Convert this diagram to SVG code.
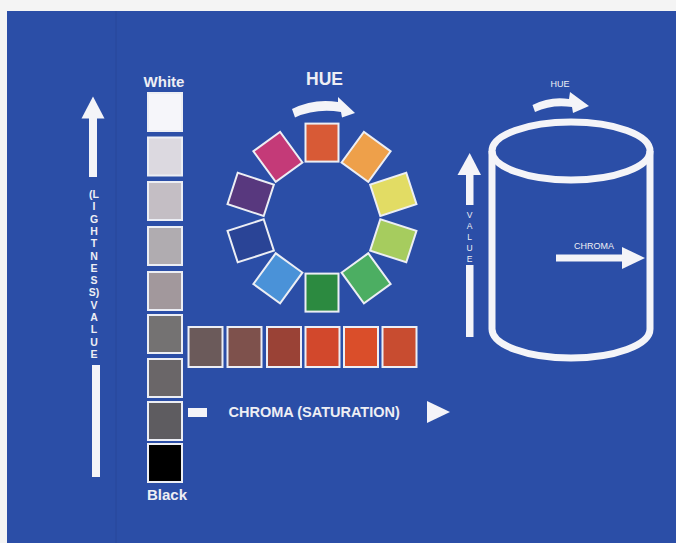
<svg xmlns="http://www.w3.org/2000/svg" width="676" height="543" viewBox="0 0 676 543">
<style>
.t{font-family:"Liberation Sans",Arial,sans-serif;fill:#eeeef4}
.b{font-weight:bold}
.sq{stroke:#eceef4;stroke-width:2}
.w{fill:#f4f4f8}
.cyl{fill:none;stroke:#f4f4f8;stroke-width:7}
</style>
<rect x="0" y="0" width="676" height="543" fill="#f4f4f4"/>
<rect x="7" y="11" width="669" height="532" fill="#2b4ea7"/>
<line x1="116" y1="11" x2="116" y2="543" stroke="#28479a" stroke-width="1"/>

<g id="value-axis">
<polygon class="w" points="93,96.5 81.5,118.5 104.5,118.5"/>
<rect class="w" x="89" y="117" width="8" height="60"/>
<g class="t b" font-size="10.5" text-anchor="middle">
<text x="94" y="198">(L</text>
<text x="94" y="210.3">I</text>
<text x="94" y="222.6">G</text>
<text x="94" y="234.9">H</text>
<text x="94" y="247.2">T</text>
<text x="94" y="259.5">N</text>
<text x="94" y="271.8">E</text>
<text x="94" y="284.1">S</text>
<text x="94" y="296.4">S)</text>
<text x="94" y="308.7">V</text>
<text x="94" y="321">A</text>
<text x="94" y="333.3">L</text>
<text x="94" y="345.6">U</text>
<text x="94" y="357.9">E</text>
</g>
<rect class="w" x="92" y="365" width="8" height="112"/>
</g>

<g id="gray-scale">
<text class="t b" x="164" y="87" font-size="15" text-anchor="middle">White</text>
<rect class="sq" x="148" y="93" width="34" height="38" fill="#f6f6fa"/>
<rect class="sq" x="148" y="137.5" width="34" height="38" fill="#dcd9e0"/>
<rect class="sq" x="148" y="182" width="34" height="38" fill="#c4bec4"/>
<rect class="sq" x="148" y="227" width="34" height="38" fill="#b0acb0"/>
<rect class="sq" x="148" y="272" width="34" height="38" fill="#a2989c"/>
<rect class="sq" x="148" y="315" width="34" height="38" fill="#747272"/>
<rect class="sq" x="148" y="359" width="34" height="38" fill="#6a6668"/>
<rect class="sq" x="148" y="402" width="34" height="38" fill="#5e5c60"/>
<rect class="sq" x="148" y="444" width="34" height="38" fill="#000000"/>
<text class="t b" x="167" y="500" font-size="15" text-anchor="middle">Black</text>
</g>

<g id="hue-wheel">
<text class="t b" x="324.5" y="85" font-size="17.5" text-anchor="middle">HUE</text>
<path class="w" d="M292,109 Q314,98 338,102 L338,97 L355,113 L342,117.5 L341,112 Q316,108 295,117.5 Z"/>
<rect class="sq" x="305.5" y="123.6" width="33" height="38" fill="#d85a36"/>
<rect class="sq" x="349.6" y="137.9" width="33" height="38" fill="#eea04a" transform="rotate(36 366.1 156.9)"/>
<rect class="sq" x="376.8" y="175.4" width="33" height="38" fill="#e2dc64" transform="rotate(72 393.3 194.4)"/>
<rect class="sq" x="376.8" y="221.8" width="33" height="38" fill="#a6cc5e" transform="rotate(108 393.3 240.8)"/>
<rect class="sq" x="349.6" y="259.3" width="33" height="38" fill="#4cae62" transform="rotate(144 366.1 278.3)"/>
<rect class="sq" x="305.5" y="273.6" width="33" height="38" fill="#2c8a40"/>
<rect class="sq" x="261.4" y="259.3" width="33" height="38" fill="#4a92d8" transform="rotate(216 277.9 278.3)"/>
<rect class="sq" x="234.2" y="221.8" width="33" height="38" fill="#2a4496" transform="rotate(252 250.7 240.8)"/>
<rect class="sq" x="234.2" y="175.4" width="33" height="38" fill="#58387e" transform="rotate(288 250.7 194.4)"/>
<rect class="sq" x="261.4" y="137.9" width="33" height="38" fill="#c43a78" transform="rotate(324 277.9 156.9)"/>
</g>

<g id="chroma-row">
<rect class="sq" x="188.5" y="327" width="34" height="40" fill="#6b5a5a"/>
<rect class="sq" x="227.5" y="327" width="34" height="40" fill="#7e514c"/>
<rect class="sq" x="267" y="327" width="34" height="40" fill="#9a4236"/>
<rect class="sq" x="305.5" y="327" width="34" height="40" fill="#d2482c"/>
<rect class="sq" x="344" y="327" width="34" height="40" fill="#da4e2a"/>
<rect class="sq" x="382.5" y="327" width="34" height="40" fill="#c84c30"/>
</g>

<g id="chroma-axis">
<rect class="w" x="188" y="408" width="19" height="9"/>
<text class="t b" x="228.5" y="416.5" font-size="14.5">CHROMA (SATURATION)</text>
<polygon class="w" points="427,401 450,412 427,423"/>
</g>

<g id="cylinder">
<text class="t" x="560" y="87" font-size="9" text-anchor="middle">HUE</text>
<path class="w" d="M532.5,105 Q550,96 569,99 L570,92 L589,106 L573,113 L572,107 Q552,104 535,112 Z"/>
<ellipse class="cyl" cx="571" cy="151" rx="79" ry="29"/>
<path class="cyl" d="M492,151 L492,329 A79,29 0 0 0 650,329 L650,151"/>
<text class="t" x="594" y="249" font-size="9" text-anchor="middle">CHROMA</text>
<rect class="w" x="556" y="254.5" width="67" height="7"/>
<polygon class="w" points="622,247 645,258 622,269"/>
</g>

<g id="cylinder-value">
<polygon class="w" points="469.7,153 457.5,175 481,175"/>
<rect class="w" x="466" y="174" width="7.5" height="31"/>
<g class="t" font-size="8.5" text-anchor="middle">
<text x="469.5" y="217.5">V</text>
<text x="469.5" y="228.7">A</text>
<text x="469.5" y="239.9">L</text>
<text x="469.5" y="251.1">U</text>
<text x="469.5" y="262.3">E</text>
</g>
<rect class="w" x="466" y="265" width="7.5" height="72"/>
</g>
</svg>
